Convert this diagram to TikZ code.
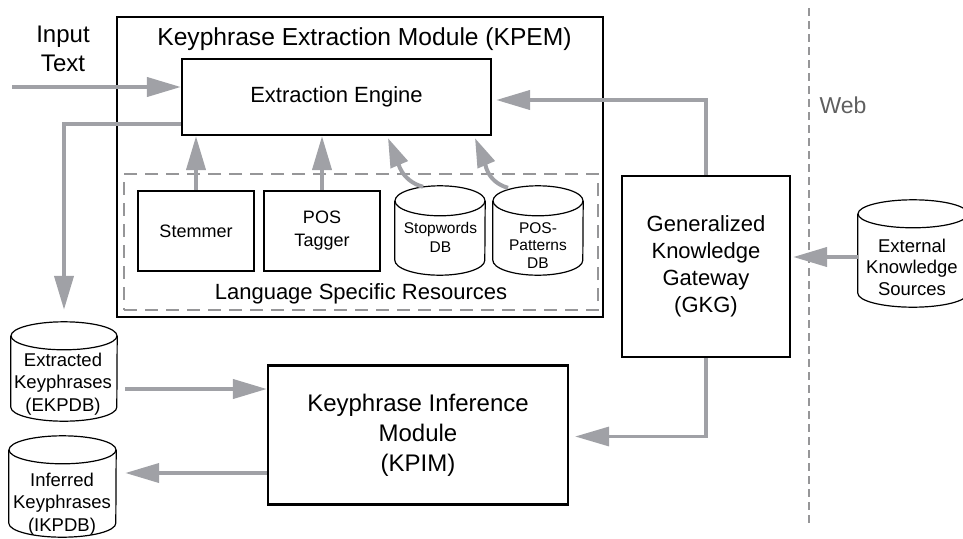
\documentclass[tikz,border=0pt]{standalone}
\usepackage{fontspec}
\setmainfont{Liberation Sans}
\usetikzlibrary{arrows.meta}

\definecolor{arrowgray}{RGB}{160,161,166}
\definecolor{dashgray}{RGB}{150,150,152}
\definecolor{webgray}{RGB}{95,95,95}

% outline of a vertical storage cylinder around node #1
% #2 = half width, #3 = vertical radius of the end ellipses
\newcommand\drawstore[3]{%
  \draw[cylline] ([yshift=-#3]#1.north west) -- ([yshift=#3]#1.south west)
    arc[start angle=180, end angle=360, x radius=#2, y radius=#3]
    -- ([yshift=-#3]#1.north east);
  \draw[cylline] ([yshift=-#3]#1.north) ellipse[x radius=#2, y radius=#3];
}

\tikzset{
  box/.style={draw, line width=2.2pt, inner sep=0pt, align=center},
  store/.style={inner sep=0pt},
  cylline/.style={line width=1.2pt},
  lbl/.style={inner sep=0pt, align=center},
  arr/.style={draw=arrowgray, line width=4pt,
    -{Triangle[length=34pt, width=19pt]}},
  carr/.style={draw=arrowgray, line width=4pt,
    -{Triangle[length=29pt, width=18pt]}},
  regionbox/.style={draw=dashgray, line width=1.3pt, dash pattern=on 13pt off 8pt},
  webline/.style={draw=dashgray, line width=2pt, dash pattern=on 8pt off 5pt},
}

\begin{document}
\begin{tikzpicture}[x=1pt, y=-1pt]
\useasboundingbox (0,0) rectangle (963,538);

% ---------- extraction module ----------
\node[box, minimum width=486pt, minimum height=300pt] (kpem) at (360,167) {};
\node[lbl, font=\fontsize{24.6pt}{30pt}\selectfont] (kpemtitle) at (364.5,39)
  {Keyphrase Extraction Module (KPEM)};
\node[box, minimum width=309pt, minimum height=76pt,
      font=\fontsize{22pt}{26pt}\selectfont] (engine) at (336.5,97) {Extraction Engine};

\node[regionbox, minimum width=474pt, minimum height=136pt] (lsr) at (361,242) {};
\node[lbl, font=\fontsize{22pt}{26pt}\selectfont] (lsrtitle) at (361,294)
  {Language Specific Resources};

\node[box, minimum width=116pt, minimum height=80pt,
      font=\fontsize{18pt}{23pt}\selectfont] (stem) at (196,231) {Stemmer};
\node[box, minimum width=116pt, minimum height=80pt,
      font=\fontsize{18pt}{23pt}\selectfont] (pos) at (322,231) {POS\\Tagger};

\node[store, minimum width=90pt, minimum height=89pt] (sw) at (440,230.5) {};
\drawstore{sw}{45pt}{15pt}
\node[lbl, font=\fontsize{15.5pt}{19pt}\selectfont] (swtext) at (440.5,237) {Stopwords\\DB};

\node[store, minimum width=90pt, minimum height=89pt] (pp) at (538,230.5) {};
\drawstore{pp}{45pt}{15pt}
\node[lbl, font=\fontsize{15.5pt}{17.5pt}\selectfont] (pptext) at (538,245.5) {POS-\\Patterns\\DB};

% ---------- input ----------
\node[lbl, font=\fontsize{24pt}{29pt}\selectfont] (input) at (63,49) {Input\\Text};
\coordinate (instart) at (12,87);

% ---------- gateway and external sources ----------
\node[box, minimum width=168pt, minimum height=181pt,
      font=\fontsize{22pt}{27pt}\selectfont] (gkg) at (706,266.5)
  {Generalized\\Knowledge\\Gateway\\(GKG)};

\node[store, minimum width=110pt, minimum height=107pt] (ext) at (913,253.5) {};
\drawstore{ext}{55pt}{14pt}
\node[lbl, font=\fontsize{18.5pt}{21.5pt}\selectfont] (exttext) at (912,267)
  {External\\Knowledge\\Sources};

% web boundary
\coordinate (webtop) at (809,8);
\coordinate (webbot) at (809,525);
\draw[webline] (webtop) -- (webbot);
\node[lbl, text=webgray, font=\fontsize{23pt}{28pt}\selectfont] (web) at (843,105) {Web};

% ---------- inference module and keyphrase stores ----------
\node[box, minimum width=300pt, minimum height=139pt,
      font=\fontsize{24pt}{30pt}\selectfont] (kpim) at (418,435)
  {Keyphrase Inference\\Module\\(KPIM)};

\node[store, minimum width=106pt, minimum height=99pt] (ek) at (64,371.5) {};
\drawstore{ek}{53pt}{14pt}
\node[lbl, font=\fontsize{18.5pt}{22.5pt}\selectfont] (ektext) at (63,384)
  {Extracted\\Keyphrases\\(EKPDB)};

\node[store, minimum width=107pt, minimum height=101pt] (ik) at (62.5,486.5) {};
\drawstore{ik}{53.5pt}{14pt}
\node[lbl, font=\fontsize{18.5pt}{22.5pt}\selectfont] (iktext) at (62,504)
  {Inferred\\Keyphrases\\(IKPDB)};

% ---------- connectors ----------
\draw[arr] (instart) -- (instart -| engine.west);
\draw[arr, shorten >=12pt] ([yshift=-27pt]engine.west) -| (ek.north);
\draw[arr] (stem.north) -- (stem.north |- engine.south);
\draw[arr] (pos.north) -- (pos.north |- engine.south);
\draw[carr] ([xshift=-17pt,yshift=-1pt]sw.north) to[out=165, in=-67]
  ([xshift=51.5pt,yshift=-2pt]engine.south);
\draw[carr] ([xshift=-30pt,yshift=-2pt]pp.north) to[out=165, in=-67]
  ([xshift=138.5pt,yshift=-2pt]engine.south);
\draw[arr, shorten >=4pt] (gkg.north) |- ([yshift=-3pt]engine.east);
\draw[arr, shorten >=2pt] ([yshift=-3.5pt]ext.west) -- ([yshift=-3.5pt]ext.west -| gkg.east);
\draw[arr, line width=3.3pt, shorten >=6pt] (gkg.south) |- ([yshift=-1.5pt]kpim.east);
\draw[arr, shorten <=8pt] ([yshift=-17.5pt]ek.east) -- ([yshift=-17.5pt]ek.east -| kpim.west);
\draw[arr, shorten >=9pt] ([yshift=-38pt]kpim.west) -- ([yshift=-38pt]kpim.west -| ik.east);

\end{tikzpicture}
\end{document}
